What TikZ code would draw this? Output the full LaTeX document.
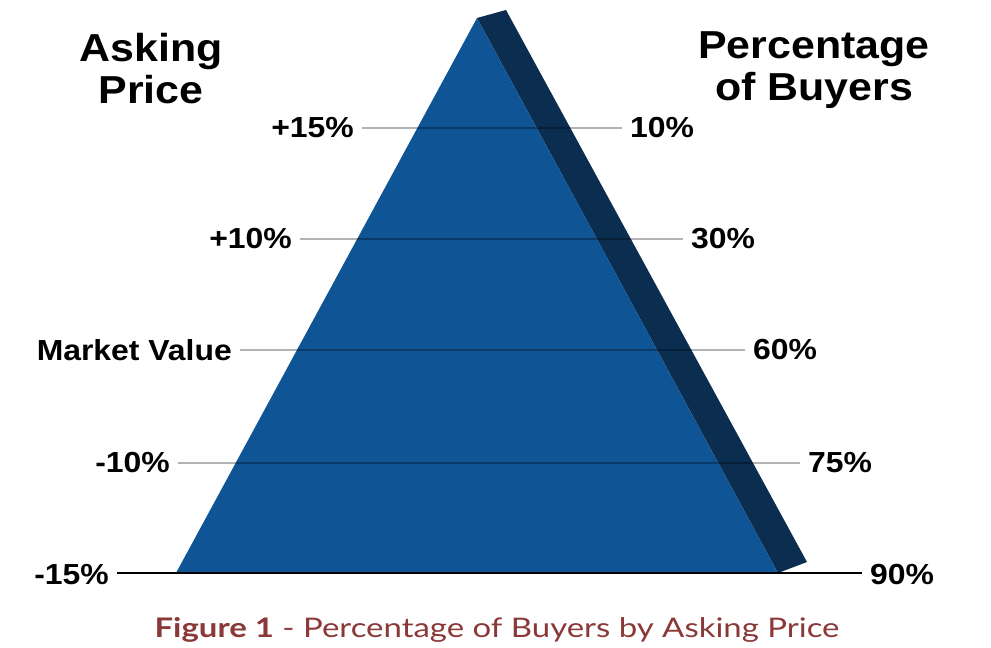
\documentclass[tikz,border=0pt]{standalone}
\usepackage{fontspec}
\setmainfont{Liberation Sans}
\newfontfamily\widesans[FakeStretch=1.1]{Liberation Sans}
\newfontfamily\capfont[FakeStretch=1.22]{Lato}
\definecolor{triblue}{HTML}{0F5595}
\definecolor{tridark}{HTML}{0B2D50}
\definecolor{guide}{HTML}{B3B3B3}
\definecolor{capred}{HTML}{8A3838}
\begin{document}
\begin{tikzpicture}[x=1pt,y=-1pt,
  lbl/.style={font=\widesans\fontsize{29}{29}\selectfont\bfseries, inner xsep=8pt, inner ysep=0pt},
  ttl/.style={font=\widesans\fontsize{39}{42}\selectfont\bfseries, align=center, inner sep=0pt},
  guideline/.style={draw=guide, line width=2.2pt},
  baseline/.style={draw=black, line width=2.5pt}]
\useasboundingbox (0,0) rectangle (991,648);
% pyramid
\coordinate (apex) at (477,18);
\coordinate (bl) at (176,573);
\coordinate (br) at (778,573);
\coordinate (tr) at (506,10);
\coordinate (sr) at (807,562);
\fill[tridark] (apex) -- (tr) -- (sr) -- (br) -- cycle;
\fill[triblue] (apex) -- (br) -- (bl) -- cycle;
% titles
\node[ttl, anchor=north] (ask) at (151,33) {Asking\\Price};
\node[ttl, anchor=north] (pct) at (814,31) {Percentage\\of Buyers};
% labels
\node[lbl, anchor=east] (l1) at (362,128) {+15\%};
\node[lbl, anchor=west] (r1) at (622,128) {10\%};
\node[lbl, anchor=east] (l2) at (300,239) {+10\%};
\node[lbl, anchor=west] (r2) at (683,239) {30\%};
\node[lbl, anchor=east] (l3) at (240,350) {Market Value};
\node[lbl, anchor=west] (r3) at (745,350) {60\%};
\node[lbl, anchor=east] (l4) at (178,463) {-10\%};
\node[lbl, anchor=west] (r4) at (800,463) {75\%};
\node[lbl, anchor=east] (l5) at (117,575) {-15\%};
\node[lbl, anchor=west] (r5) at (862,575) {90\%};
\begin{scope}[blend mode=multiply]
\draw[guideline] (l1.east) -- (r1.west);
\draw[guideline] (l2.east) -- (r2.west);
\draw[guideline] (l3.east) -- (r3.west);
\draw[guideline] (l4.east) -- (r4.west);
\end{scope}
\draw[baseline] (l5.east |- 0,573) -- (r5.west |- 0,573);
% caption
\node[font=\capfont\fontsize{27}{27}\selectfont, text=capred, inner sep=0pt] (cap) at (497,630)
  {{\bfseries Figure 1} - Percentage of Buyers by Asking Price};
\end{tikzpicture}
\end{document}
